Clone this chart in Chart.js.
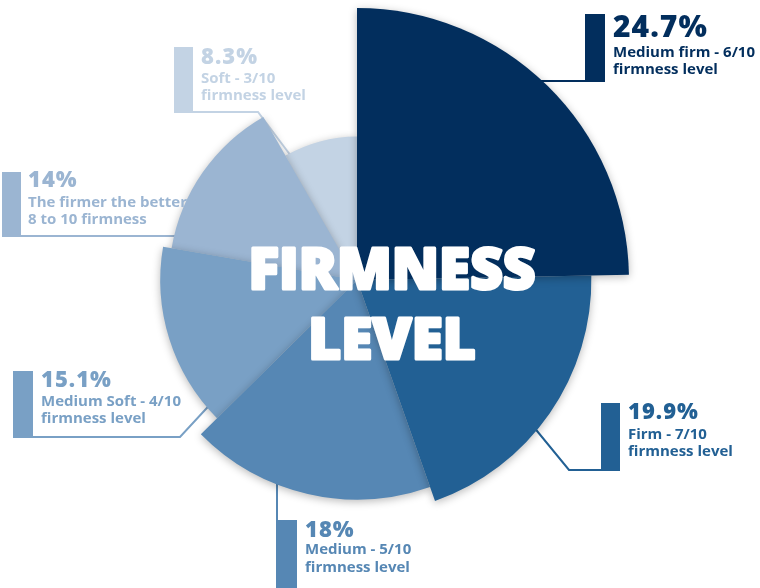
<!DOCTYPE html>
<html>
<head>
<meta charset="utf-8">
<script src="https://cdn.jsdelivr.net/npm/chart.js@4.4.1/dist/chart.umd.min.js"></script>
<style>
  html, body { margin: 0; background: #fff; }
  #wrap { width: 760px; height: 588px; }
</style>
</head>
<body>
<div id="wrap"><canvas id="firmness"></canvas></div>
<script>
// ── Données ──
const categories = ['Medium firm', 'Firm', 'Medium', 'Medium Soft', 'The firmer the better', 'Soft'];
const shares = [24.7, 19.9, 18, 15.1, 14, 8.3];
const valueLabels = ['24.7%', '19.9%', '18%', '15.1%', '14%', '8.3%'];
const captions = [
  ['Medium firm - 6/10', 'firmness level'],
  ['Firm - 7/10', 'firmness level'],
  ['Medium - 5/10', 'firmness level'],
  ['Medium Soft - 4/10', 'firmness level'],
  ['The firmer the better', '8 to 10 firmness'],
  ['Soft - 3/10', 'firmness level'],
];
const centerTitle = ['FIRMNESS', 'LEVEL'];

// ── Style ──
const colors = ['#022e5d', '#226094', '#5687b4', '#79a0c5', '#9bb5d2', '#c3d3e4'];

// callout layout: bar rect, leader polyline (starts inside the slice), text x + baselines
const callouts = [
  { bar: [585, 14, 20, 68], leader: [[515, 81], [587, 81]], x: 613, y: [37, 57, 74], size: 30 },
  { bar: [601, 403, 19, 68], leader: [[510, 398], [569, 470], [603, 470]], x: 628, y: [419, 439, 456], size: 22 },
  { bar: [276, 520, 21, 70], leader: [[277, 455], [277, 522]], x: 305, y: [537, 554, 572], size: 22 },
  { bar: [13, 371, 20, 67], leader: [[230, 383], [180, 437], [31, 437]], x: 41, y: [387, 406, 423], size: 22 },
  { bar: [2, 172, 19, 65], leader: [[215, 236], [19, 236]], x: 28, y: [187, 207, 224], size: 22 },
  { bar: [174, 47, 19, 66], leader: [[300, 168], [258, 112], [191, 112]], x: 201, y: [64, 83, 100], size: 22 },
];

const FONT = '"Open Sans", "Noto Sans", sans-serif';

const calloutsPlugin = {
  id: 'callouts',
  beforeDatasetsDraw(chart) {
    const ctx = chart.ctx;
    ctx.save();
    // leaders and bars sit under the slices
    callouts.forEach((c, i) => {
      ctx.strokeStyle = colors[i];
      ctx.lineWidth = 2;
      ctx.beginPath();
      c.leader.forEach(([x, y], k) => (k ? ctx.lineTo(x, y) : ctx.moveTo(x, y)));
      ctx.stroke();
      ctx.fillStyle = colors[i];
      ctx.fillRect(...c.bar);
    });
    // slices drawn smallest first so bigger ones throw shadow on them
    const arcs = chart.getDatasetMeta(0).data.slice().reverse();
    ctx.shadowColor = 'rgba(0,0,0,0.28)';
    ctx.shadowBlur = 8;
    ctx.shadowOffsetY = 2;
    arcs.forEach(a => a.draw(ctx));
    ctx.restore();
    return false;
  },
  afterDraw(chart) {
    const ctx = chart.ctx;
    ctx.save();
    ctx.textAlign = 'left';
    ctx.textBaseline = 'alphabetic';
    callouts.forEach((c, i) => {
      ctx.fillStyle = colors[i];
      ctx.letterSpacing = '1px';
      ctx.font = `800 ${c.size}px ${FONT}`;
      ctx.fillText(valueLabels[i], c.x, c.y[0]);
      ctx.letterSpacing = '0px';
      ctx.font = `700 15px ${FONT}`;
      ctx.fillText(captions[i][0], c.x, c.y[1]);
      ctx.fillText(captions[i][1], c.x, c.y[2]);
    });

    // titre central
    ctx.fillStyle = '#fff';
    ctx.strokeStyle = '#fff';
    ctx.lineWidth = 3;
    ctx.lineJoin = 'round';
    ctx.font = `800 56px ${FONT}`;
    const sx = 287 / ctx.measureText(centerTitle[0]).width;
    ctx.textAlign = 'center';
    [[centerTitle[0], 289], [centerTitle[1], 359]].forEach(([t, y]) => {
      ctx.save();
      ctx.translate(392, y);
      ctx.scale(sx, 1);
      ctx.fillText(t, 0, 0);
      ctx.strokeText(t, 0, 0);
      ctx.restore();
    });
    ctx.restore();
  },
};

new Chart(document.getElementById('firmness'), {
  type: 'polarArea',
  data: {
    labels: categories,
    datasets: [{
      data: shares,
      backgroundColor: colors,
      borderWidth: 0,
      angle: ctx => shares[ctx.dataIndex] * 3.6,
    }],
  },
  options: {
    responsive: true, maintainAspectRatio: false,
    animation: false,
    layout: { padding: { left: 85, right: 131, top: 8, bottom: 36 } },
    plugins: { legend: { display: false }, tooltip: { enabled: false } },
    scales: {
      r: { display: false, min: -10, max: 24.7, startAngle: 0 },
    },
  },
  plugins: [calloutsPlugin],
});
</script>
</body>
</html>
